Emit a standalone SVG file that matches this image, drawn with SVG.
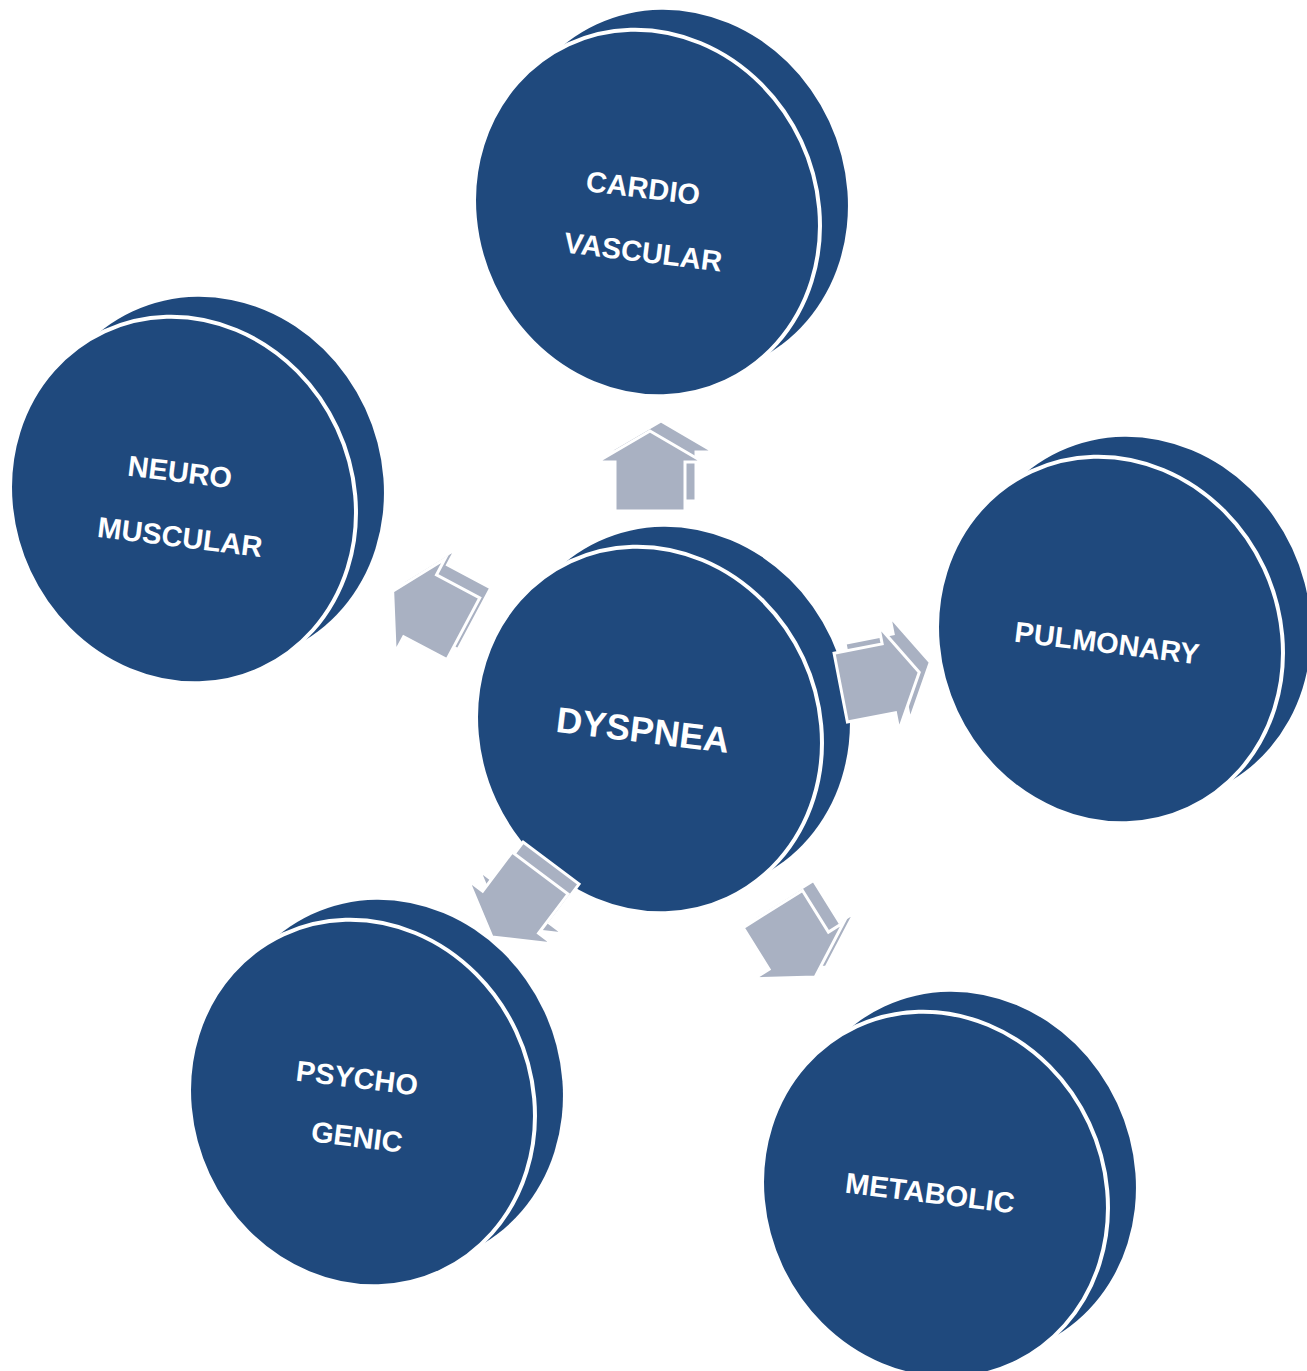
<svg xmlns="http://www.w3.org/2000/svg" xmlns:xlink="http://www.w3.org/1999/xlink" width="1307" height="1371" viewBox="0 0 1307 1371">
<style>
.disc-back{fill:#1F497D;}
.disc-front{fill:#1F497D;stroke:#FFFFFF;stroke-width:4;}
.arr{fill:#A9B1C2;stroke:#FFFFFF;stroke-width:3;stroke-linejoin:miter;}
.lbl{font-family:"Liberation Sans",Arial,sans-serif;font-weight:bold;fill:#FFFFFF;text-anchor:middle;dominant-baseline:central;}
</style>
<defs>
<g id="disc">
<ellipse class="disc-back" cx="0" cy="0" rx="170" ry="186" transform="translate(28,-20) rotate(-25)"/>
<ellipse class="disc-front" cx="0" cy="0" rx="170" ry="186" transform="rotate(-25)"/>
</g>
<polygon id="arrowShape" points="0,-40 53,-9 35,-9 35,40 -35,40 -35,-9 -53,-9"/>
</defs>
<rect width="1307" height="1371" fill="#FFFFFF"/>

<g id="node-cardiovascular">
<use xlink:href="#disc" transform="translate(647,213)"/>
<text class="lbl" font-size="29" transform="rotate(7 643 188)" x="643" y="188">CARDIO</text>
<text class="lbl" font-size="29" transform="rotate(7 643 252)" x="643" y="252">VASCULAR</text>
</g>
<g id="node-neuromuscular">
<use xlink:href="#disc" transform="translate(183,500)"/>
<text class="lbl" font-size="29" transform="rotate(7 180 472)" x="180" y="472">NEURO</text>
<text class="lbl" font-size="29" transform="rotate(7 180 537)" x="180" y="537">MUSCULAR</text>
</g>
<g id="node-pulmonary">
<use xlink:href="#disc" transform="translate(1110,640)"/>
<text class="lbl" font-size="29" transform="rotate(7 1107 643)" x="1107" y="643">PULMONARY</text>
</g>
<g id="node-psychogenic">
<use xlink:href="#disc" transform="translate(362,1103)"/>
<text class="lbl" font-size="29" transform="rotate(7 357 1078)" x="357" y="1078">PSYCHO</text>
<text class="lbl" font-size="29" transform="rotate(7 357 1137)" x="357" y="1137">GENIC</text>
</g>
<g id="node-metabolic">
<use xlink:href="#disc" transform="translate(935,1195)"/>
<text class="lbl" font-size="29" transform="rotate(7 930 1193)" x="930" y="1193">METABOLIC</text>
</g>
<g id="node-dyspnea">
<use xlink:href="#disc" transform="translate(649,730)"/>
<text class="lbl" font-size="36" transform="rotate(7 643 730)" x="643" y="730">DYSPNEA</text>
</g>

<g id="connectors">
<g id="arrow-cardio">
<use class="arr" xlink:href="#arrowShape" transform="translate(661,461)"/>
<use class="arr" xlink:href="#arrowShape" transform="translate(650,471)"/>
</g>
<g id="arrow-neuro">
<use class="arr" xlink:href="#arrowShape" transform="translate(439,600) rotate(-62)"/>
<use class="arr" xlink:href="#arrowShape" transform="translate(428,610) rotate(-62)"/>
</g>
<g id="arrow-pulmonary">
<use class="arr" xlink:href="#arrowShape" transform="translate(891,670) rotate(79)"/>
<use class="arr" xlink:href="#arrowShape" transform="translate(880,680) rotate(79)"/>
</g>
<g id="arrow-psycho">
<use class="arr" xlink:href="#arrowShape" transform="translate(527,895) rotate(217)"/>
<use class="arr" xlink:href="#arrowShape" transform="translate(516,905) rotate(217)"/>
</g>
<g id="arrow-metabolic">
<use class="arr" xlink:href="#arrowShape" transform="translate(805,933) rotate(148)"/>
<use class="arr" xlink:href="#arrowShape" transform="translate(794,943) rotate(148)"/>
</g>
</g>
</svg>
